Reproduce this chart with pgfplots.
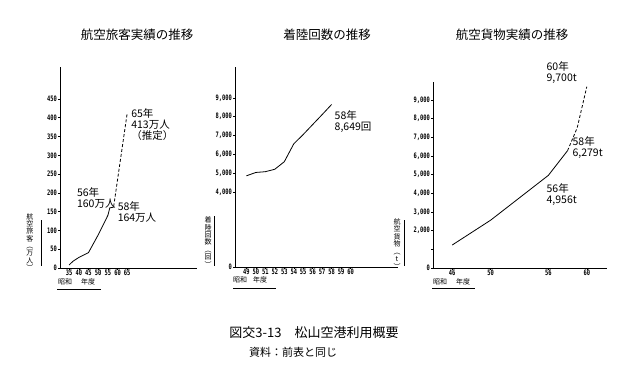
\documentclass[border=0pt]{standalone}
\usepackage{pgfplots}
\pgfplotsset{compat=1.18}
\usepackage{fontspec}
\setmainfont{Noto Sans CJK JP}
\newfontfamily\tickfnt[FakeStretch=0.72]{DejaVu Sans Mono Bold}
\begin{document}
\begin{tikzpicture}
\path (0pt,0pt) rectangle (640pt,376pt);
\pgfplotsset{
  base/.style={scale only axis, axis lines*=left, axis line style={-, line width=0.7pt},
    tick align=outside, major tick length=2pt, tick style={line width=0.5pt, black},
    ticklabel style={font=\tickfnt\fontsize{7.5}{8}\selectfont, inner sep=1pt},
    xticklabel style={yshift=1pt},
    /pgf/number format/assume math mode=true,
    /pgf/number format/1000 sep={,},
    clip=false, anchor=south west},
}
% ---------- panel 1 ----------
\begin{axis}[base, at={(60pt,108pt)}, width=137pt, height=201pt,
  xmin=30.3, xmax=101, ymin=0, ymax=535,
  xtick={35,40,45,50,55,60,65}, ytick={0,50,100,150,200,250,300,350,400,450}]
\addplot[black, line width=0.8pt] coordinates {(35,8) (37,18) (40,28) (45,41) (50,88) (55,140) (56,160) (58,162)};
\addplot[black, line width=0.8pt, dash pattern=on 3pt off 2pt] coordinates {(58,164) (65,413)};
\node[align=left, anchor=west, font=\fontsize{10.5}{11}\selectfont, inner sep=0] at (axis cs:39,185) {56年\\160万人};
\node[align=left, anchor=west, font=\fontsize{10.5}{11}\selectfont, inner sep=0] at (axis cs:60,148) {58年\\164万人};
\node[align=left, anchor=north west, font=\fontsize{10.5}{11}\selectfont, inner sep=0] at (axis cs:67,425) {65年\\413万人\\（推定）};
\end{axis}
% ---------- panel 2 ----------
\begin{axis}[base, at={(235pt,109pt)}, width=163pt, height=200pt,
  xmin=47.8, xmax=65, ymin=0, ymax=10640,
  xtick={49,50,...,60}, ytick={0,4000,5000,6000,7000,8000,9000},
  scaled y ticks=false]
\addplot[black, line width=0.8pt] coordinates {(49,4850) (50,5030) (51,5070) (52,5200) (53,5600) (54,6550) (55,7050) (56,7580) (57,8110) (58,8649)};
\node[align=left, anchor=north west, font=\fontsize{10.5}{11}\selectfont, inner sep=0] at (axis cs:58.3,8350) {58年\\8,649回};
\end{axis}
% ---------- panel 3 ----------
\begin{axis}[base, at={(433pt,108pt)}, width=174pt, height=186pt,
  xmin=44, xmax=62.1, ymin=0, ymax=9950,
  xtick={46,50,56,60}, ytick={0,1000,...,9000},
  yticklabels={0,{},{2,000},{3,000},{4,000},{5,000},{6,000},{7,000},{8,000},{9,000}},
  scaled y ticks=false]
\addplot[black, line width=0.8pt] coordinates {(46,1230) (50,2560) (56,4956) (58,6279)};
\addplot[black, line width=0.8pt, dash pattern=on 3pt off 2pt] coordinates {(58,6279) (59,7500) (60,9700)};
\node[align=left, anchor=north west, font=\fontsize{10.5}{11}\selectfont, inner sep=0] at (axis cs:55.8,4550) {56年\\4,956t};
\node[align=left, anchor=north west, font=\fontsize{10.5}{11}\selectfont, inner sep=0] at (axis cs:58.5,7050) {58年\\6,279t};
\node[align=left, anchor=north west, font=\fontsize{10.5}{11}\selectfont, inner sep=0] at (axis cs:55.8,11050) {60年\\9,700t};
\end{axis}
% ---------- titles ----------
\node[font=\fontsize{12.5}{13}\selectfont] at (137pt,341pt) {航空旅客実績の推移};
\node[font=\fontsize{12.5}{13}\selectfont] at (327pt,341pt) {着陸回数の推移};
\node[font=\fontsize{12.5}{13}\selectfont] at (512pt,341pt) {航空貨物実績の推移};
% ---------- y labels ----------
\node[align=center, font=\fontsize{7}{7.3}\selectfont, inner sep=0] at (30pt,134pt) {航\\空\\旅\\客\\︵\\万\\人\\︶};
\draw[line width=0.5pt] (41pt,156pt) -- (41pt,110pt);
\node[align=center, font=\fontsize{7}{7.4}\selectfont, inner sep=0] at (208pt,134pt) {着\\陸\\回\\数\\︵\\回\\︶};
\draw[line width=0.5pt] (214pt,160pt) -- (214pt,110pt);
\node[align=center, font=\fontsize{7}{7.5}\selectfont, inner sep=0] at (397pt,132pt) {航\\空\\貨\\物\\︵\\t\\︶};
\draw[line width=0.5pt] (404pt,156pt) -- (404pt,110pt);
% ---------- era labels ----------
\node[anchor=west, font=\fontsize{7}{8}\selectfont, inner sep=0] at (58pt,94pt) {昭和\hspace{9pt}年度};
\draw[line width=0.5pt] (57pt,87pt) -- (101pt,87pt);
\node[anchor=west, font=\fontsize{7}{8}\selectfont, inner sep=0] at (233pt,96pt) {昭和\hspace{6pt}年度};
\draw[line width=0.5pt] (233pt,88pt) -- (276pt,88pt);
\node[anchor=west, font=\fontsize{7}{8}\selectfont, inner sep=0] at (433pt,94pt) {昭和\hspace{9pt}年度};
\draw[line width=0.5pt] (432pt,88pt) -- (475pt,88pt);
% ---------- caption ----------
\node[font=\fontsize{13}{14}\selectfont] at (314pt,43pt) {図交3-13　松山空港利用概要};
\node[font=\fontsize{11}{12}\selectfont] at (293pt,24pt) {資料：前表と同じ};
\end{tikzpicture}
\end{document}
